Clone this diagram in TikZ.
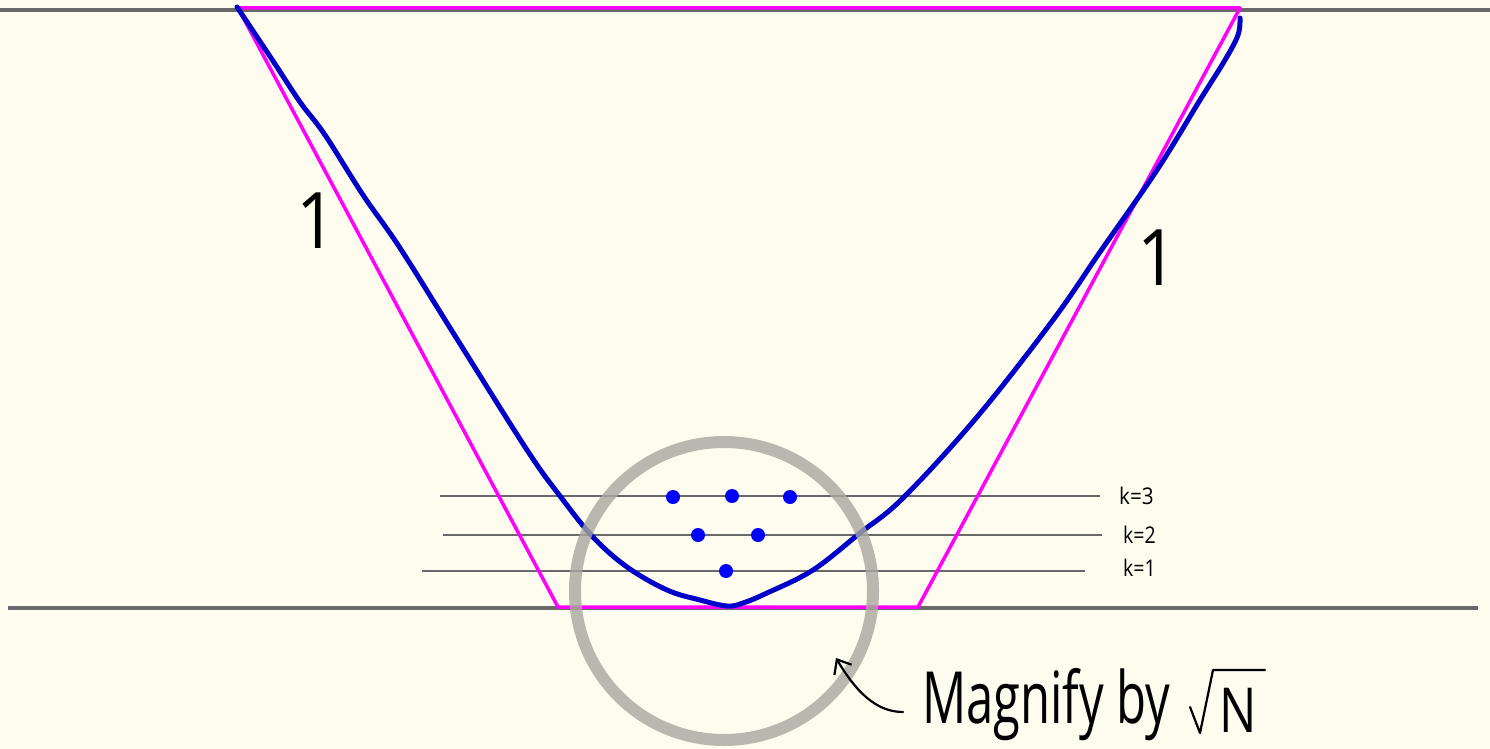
\documentclass[tikz,border=0pt]{standalone}
\usepackage{fontspec}
\usepackage{graphicx}
\setmainfont{Open Sans}
\usetikzlibrary{arrows.meta}
\definecolor{bg}{RGB}{253,252,238}
\definecolor{gline}{RGB}{105,105,105}
\definecolor{mag}{RGB}{255,0,255}
\definecolor{curve}{RGB}{0,0,200}
\definecolor{dot}{RGB}{0,0,255}
\definecolor{ring}{RGB}{170,168,158}
\tikzset{
  axis/.style={gline, line width=3.5pt},
  kline/.style={gline, line width=1.6pt},
  trap/.style={mag, line width=3.5pt, line join=round},
  wave/.style={curve, line width=5pt, line cap=round, line join=round},
  dotst/.style={circle, fill=dot, inner sep=0pt, minimum size=14pt},
  klab/.style={font=\fontsize{23}{23}\selectfont, anchor=base west, inner sep=0pt},
  onelab/.style={font=\fontsize{78}{78}\selectfont, inner sep=0pt},
  bigtxt/.style={font=\fontsize{72}{72}\selectfont, anchor=base west, inner sep=0pt},
  pen/.style={line width=2.2pt, line cap=round, line join=round},
}
\begin{document}
\begin{tikzpicture}[x=1pt,y=-1pt]
\fill[bg] (0,0) rectangle (1490,749);
\useasboundingbox (0,0) rectangle (1490,749);
% axes
\draw[axis] (0,10) -- (1490,10);
\draw[axis] (8,608) -- (1478,608);
% level lines
\draw[kline] (440,496) -- (1100,496);
\draw[kline] (443,535) -- (1102,535);
\draw[kline] (422,571) -- (1085,571);
\node[klab] (k3) at (1119,504) {\scalebox{0.9}[1]{k=3}};
\node[klab] (k2) at (1123,543) {\scalebox{0.85}[1]{k=2}};
\node[klab] (k1) at (1123,576) {\scalebox{0.85}[1]{k=1}};
% trapezoid
\draw[trap] (238,8) -- (1240,8) -- (918,607) -- (558,607) -- cycle;
% blue curve
\draw[wave] plot[smooth, tension=0.6] coordinates {
 (237,7) (273,61) (300,102) (325,135) (363,195) (400,248)
 (457,339) (527,450) (560,496) (593,537) (627,567) (667,590)
 (700,600) (727,606) (743,603) (767,593) (813,570) (860,533) (903,498)
 (977,417) (1053,320) (1100,252) (1157,170) (1200,100) (1225,60)
 (1238,35) (1240,18)};
% dots
\node[dotst] (d31) at (673,497) {};
\node[dotst] (d32) at (732,496) {};
\node[dotst] (d33) at (790,497) {};
\node[dotst] (d21) at (698,535) {};
\node[dotst] (d22) at (758,535) {};
\node[dotst] (d11) at (726,571) {};
% magnifier ring
\draw[ring, line width=12pt, opacity=0.8] (724,591) circle (149);
% labels
\node[onelab] (one1) at (317,221) {\scalebox{0.9}[1]{1}};
\node[onelab] (one2) at (1158,258) {\scalebox{0.9}[1]{1}};
\node[bigtxt] (mag) at (922,723) {\scalebox{0.68}[1]{Magnify by}};
\node[font=\fontsize{62}{62}\selectfont, anchor=base west, inner sep=0pt] (N) at (1219,732) {\scalebox{0.8}[1]{N}};
\draw[pen] (1190,707) -- (1200,733) -- (1213,670) -- (1265,670);
\coordinate (tip) at (836,658);
\draw[pen, -{Straight Barb[length=12pt,width=20pt]}] (903,712) .. controls (875,712) and (855,690) .. (tip);
\end{tikzpicture}
\end{document}
